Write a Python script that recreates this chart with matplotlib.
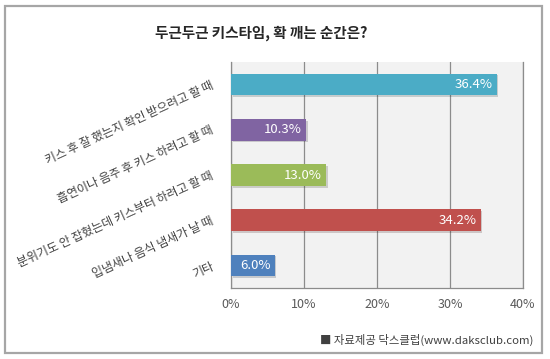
import matplotlib
matplotlib.use("Agg")
import matplotlib.pyplot as plt
import matplotlib.patheffects as pe
from matplotlib.patches import Rectangle
from matplotlib.transforms import ScaledTranslation

plt.rcParams['font.family'] = ['Noto Sans CJK KR', 'DejaVu Sans']

title = "두근두근 키스타임, 확 깨는 순간은?"
categories = [
    "키스 후 잘 했는지 확인 받으려고 할 때",
    "흡연이나 음주 후 키스 하려고 할 때",
    "분위기도 안 잡혔는데 키스부터 하려고 할 때",
    "입냄새나 음식 냄새가 날 때",
    "기타",
]
values = [36.4, 10.3, 13.0, 34.2, 6.0]
colors = ["#4bacc6", "#8064a2", "#9bbb59", "#c0504d", "#4f81bd"]
xticks = [0, 10, 20, 30, 40]
source = "■ 자료제공 닥스클럽(www.daksclub.com)"

fig = plt.figure(figsize=(5.5, 3.59), dpi=100)
ax = fig.add_axes([231 / 550, 1 - 288 / 359, 292 / 550, 226 / 359])
ax.set_facecolor("#f2f2f2")

pos = list(range(len(categories)))
bars = ax.barh(pos, values, height=0.48, color=colors, zorder=3)
for b in bars:
    b.set_path_effects([pe.SimplePatchShadow(offset=(1.2, -1.2), alpha=0.2), pe.Normal()])

for b, v in zip(bars, values):
    ax.text(v - 0.6, b.get_y() + b.get_height() / 2, f"{v:.1f}%",
            ha="right", va="center", color="white", fontsize=9.5, zorder=4)

ax.set_xlim(0, 40)
ax.set_ylim(4.5, -0.5)
ax.set_xticks(xticks)
ax.set_xticklabels([f"{t}%" for t in xticks], color="#595959", fontsize=9)
ax.set_yticks(pos)
ax.set_yticklabels(categories, rotation=24.5, ha="right", va="center",
                   rotation_mode="anchor", color="#404040", fontsize=8.6)
for lab in ax.get_yticklabels():
    lab.set_transform(lab.get_transform() + ScaledTranslation(0, -10 / 72, fig.dpi_scale_trans))
ax.tick_params(axis="both", length=0)
ax.tick_params(axis="x", pad=7)
ax.tick_params(axis="y", pad=13)
ax.grid(axis="x", color="#8c8c8c", linewidth=0.9, zorder=1)
ax.spines["top"].set_visible(False)
for s in ["left", "bottom", "right"]:
    ax.spines[s].set_color("#8c8c8c")
    ax.spines[s].set_linewidth(0.9)

fig.text(261 / 550, 1 - 33 / 359, title, ha="center", va="center",
         fontsize=10.5, fontweight="bold", color="#262626")
fig.text(533 / 550, 1 - 340 / 359, source, ha="right", va="center",
         fontsize=8.2, color="#404040")

fig.patches.append(Rectangle((5 / 550, 1 - 353 / 359), 537 / 550, 347 / 359,
                             transform=fig.transFigure, fill=False,
                             edgecolor="#a6a6a6", linewidth=1.6))

fig.savefig("out.png", dpi=100)
